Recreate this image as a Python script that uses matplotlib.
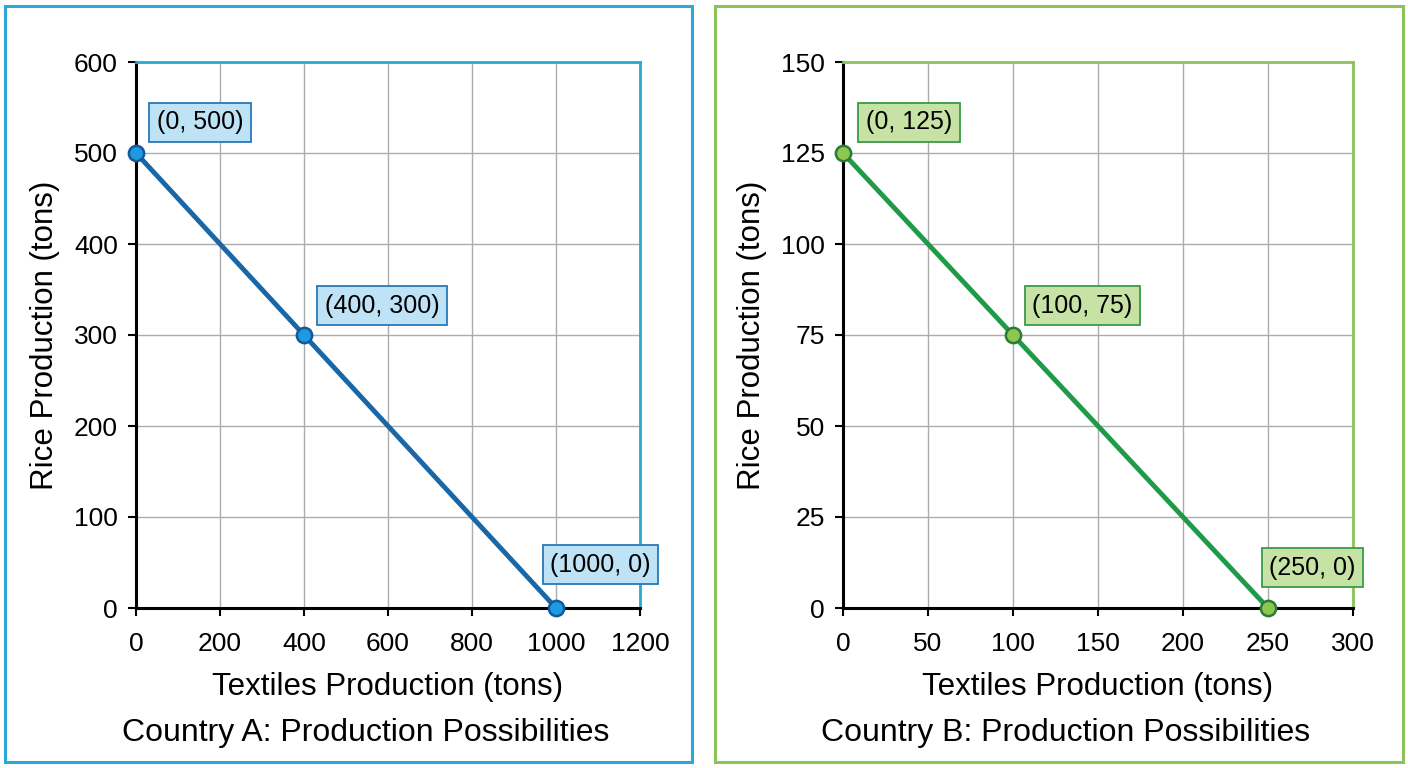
import matplotlib
matplotlib.use('Agg')
import matplotlib.pyplot as plt
from matplotlib.patches import Rectangle

plt.rcParams['font.family'] = ['Liberation Sans', 'DejaVu Sans']

# Country A data
a_textiles = [0, 400, 1000]
a_rice = [500, 300, 0]
a_labels = ['(0, 500)', '(400, 300)', '(1000, 0)']
a_xticks = [0, 200, 400, 600, 800, 1000, 1200]
a_yticks = [0, 100, 200, 300, 400, 500, 600]

# Country B data
b_textiles = [0, 100, 250]
b_rice = [125, 75, 0]
b_labels = ['(0, 125)', '(100, 75)', '(250, 0)']
b_xticks = [0, 50, 100, 150, 200, 250, 300]
b_yticks = [0, 25, 50, 75, 100, 125, 150]

fig = plt.figure(figsize=(14.08, 7.68), dpi=100)

# outer panel frames
fig.patches.append(Rectangle((5 / 1408, 6 / 768), 687 / 1408, 756 / 768, transform=fig.transFigure,
                             fill=False, edgecolor='#2aa8d8', linewidth=2.2))
fig.patches.append(Rectangle((715 / 1408, 6 / 768), 688 / 1408, 756 / 768, transform=fig.transFigure,
                             fill=False, edgecolor='#8cc45a', linewidth=2.2))


def panel(rect, xs, ys, labels, xticks, yticks, line_col, mk_face, mk_edge, box_face, box_edge,
          frame_col, title, title_x, offsets):
    ax = fig.add_axes(rect)
    ax.plot(xs, ys, color=line_col, linewidth=3.5, zorder=3, clip_on=False)
    ax.plot(xs, ys, linestyle='none', marker='o', markersize=11, markerfacecolor=mk_face,
            markeredgecolor=mk_edge, markeredgewidth=1.8, zorder=4, clip_on=False)
    for x, y, lab, off in zip(xs, ys, labels, offsets):
        ax.annotate(lab, (x, y), xytext=off, textcoords='offset points', fontsize=18,
                    ha='left', va='center', zorder=5,
                    bbox=dict(boxstyle='square,pad=0.3', facecolor=box_face, edgecolor=box_edge, linewidth=1.3))
    ax.set_xlim(xticks[0], xticks[-1])
    ax.set_ylim(yticks[0], yticks[-1])
    ax.set_xticks(xticks)
    ax.set_yticks(yticks)
    ax.grid(True, color='#acacac', linewidth=1.0)
    ax.set_axisbelow(True)
    ax.tick_params(labelsize=19, direction='out', length=6, width=1.5, pad=7, colors='black')
    ax.tick_params(axis='x', pad=11)
    for s in ['left', 'bottom']:
        ax.spines[s].set_color('black')
        ax.spines[s].set_linewidth(2.2)
    for s in ['top', 'right']:
        ax.spines[s].set_color(frame_col)
        ax.spines[s].set_linewidth(2.0)
    ax.set_xlabel('Textiles Production (tons)', fontsize=22.5, labelpad=12)
    ax.set_ylabel('Rice Production (tons)', fontsize=22.5, labelpad=10)
    fig.text(title_x / 1408, 1 - 733 / 768, title, fontsize=23, ha='center', va='center')
    return ax


panel([136 / 1408, 160 / 768, 504 / 1408, 546 / 768], a_textiles, a_rice, a_labels, a_xticks, a_yticks,
      '#1a67a8', '#1e9be0', '#14589a', '#bfe3f6', '#2878b8', '#2aa8d8',
      'Country A: Production Possibilities', 366, [(15, 22), (15, 21), (-4, 31)])

panel([843 / 1408, 160 / 768, 510 / 1408, 546 / 768], b_textiles, b_rice, b_labels, b_xticks, b_yticks,
      '#1e9a48', '#8cc850', '#2a7a38', '#c6e2a4', '#3a9a4a', '#8cc45a',
      'Country B: Production Possibilities', 1066, [(16.5, 22), (14, 21), (1, 29)])

fig.savefig('out.png', dpi=100)
